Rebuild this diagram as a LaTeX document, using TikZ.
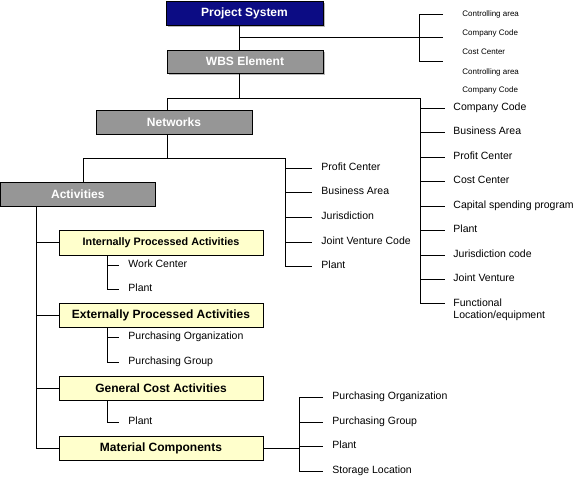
\documentclass[tikz,border=0pt]{standalone}
\usepackage{fontspec}
\setmainfont{Liberation Sans}
\usetikzlibrary{shadows}

\definecolor{psblue}{RGB}{12,12,132}
\definecolor{boxgray}{RGB}{150,150,150}
\definecolor{actyellow}{RGB}{255,255,204}

\begin{document}
\begin{tikzpicture}[x=1pt, y=-1pt, line width=0.9pt,
		topbox/.style={rectangle, draw=black, line width=0.6pt, minimum width=156pt, minimum height=24pt, inner sep=0pt, text=white, font=\fontsize{12}{14}\selectfont\bfseries},
		greybox/.style={topbox, fill=boxgray},
		actbox/.style={rectangle, draw=black, line width=0.6pt, fill=actyellow, minimum width=204pt, minimum height=24pt, inner sep=0pt, font=\fontsize{12}{14}\selectfont\bfseries},
		leaf/.style={anchor=west, inner sep=0pt, text height=7.6pt, text depth=2pt, font=\fontsize{10.5}{12}\selectfont},
		tinyleaf/.style={anchor=west, inner sep=0pt, text height=6pt, text depth=1.6pt, font=\fontsize{8}{9}\selectfont},
		shade/.style={drop shadow={shadow xshift=2pt, shadow yshift=-2pt, fill=black!45, opacity=0.6}}]

		\useasboundingbox[fill=white] (0,0) rectangle (580,484);

		% Kopf
		\node[topbox, fill=psblue, shade, minimum width=157pt] (ps) at (244.5,13) {Project System};
		\node[greybox, shade, minimum height=23pt] (wbs) at (245,61.5) {WBS Element};
		\node[greybox] (nw) at (174,122) {Networks};
		\node[greybox, minimum width=155pt] (act) at (77.8,194) {Activities};

		% Vorgaenge
		\node[actbox, minimum height=25pt, font=\fontsize{10.8}{13}\selectfont\bfseries] (ipa) at (161,242.5) {Internally Processed Activities};
		\node[actbox] (epa) at (161,315) {Externally Processed Activities};
		\node[actbox] (gca) at (161,388) {General Cost Activities};
		\node[actbox] (mat) at (161,448) {Material Components};

		% Project System rechts oben
		\node[tinyleaf] (tca1) at (462,14) {Controlling area};
		\node[tinyleaf] (tcc1) at (462,33) {Company Code};
		\node[tinyleaf] (tcost) at (462,52) {Cost Center};
		\node[tinyleaf] (tca2) at (462,72) {Controlling area};
		\node[tinyleaf] (tcc2) at (462,90) {Company Code};

		% WBS Element rechts
		\node[leaf] (rcc) at (453,108) {Company Code};
		\node[leaf] (rba) at (453,132) {Business Area};
		\node[leaf] (rpc) at (453,157) {Profit Center};
		\node[leaf] (rcost) at (453,181) {Cost Center};
		\node[leaf] (rcap) at (453,206) {Capital spending program};
		\node[leaf] (rpl) at (453,230) {Plant};
		\node[leaf] (rjc) at (453,255) {Jurisdiction code};
		\node[leaf] (rjv) at (453,279) {Joint Venture};
		\node[leaf, anchor=north west, align=left, text height=, text depth=] (rfl) at (453,298.5) {Functional\\Location/equipment};

		% Networks rechts
		\node[leaf] (mpc) at (321,168) {Profit Center};
		\node[leaf] (mba) at (321,192) {Business Area};
		\node[leaf] (mju) at (321,217) {Jurisdiction};
		\node[leaf] (mjv) at (321,242) {Joint Venture Code};
		\node[leaf] (mpl) at (321,266) {Plant};

		% unter den Vorgaengen
		\node[leaf] (ipawc) at (128,265) {Work Center};
		\node[leaf] (ipapl) at (128,289) {Plant};
		\node[leaf] (epapo) at (128,337) {Purchasing Organization};
		\node[leaf] (epapg) at (128,362) {Purchasing Group};
		\node[leaf] (gcapl) at (128,422) {Plant};
		\node[leaf] (matpo) at (332,397) {Purchasing Organization};
		\node[leaf] (matpg) at (332,422) {Purchasing Group};
		\node[leaf] (matpl) at (332,446) {Plant};
		\node[leaf] (matsl) at (332,471) {Storage Location};

		% Hilfspunkte
		\coordinate (psj) at (239,37);
		\coordinate (tbr) at (419,0);
		\coordinate (tbb) at (443,61);
		\coordinate (wj) at (239,98);
		\coordinate (nwj) at (167,98);
		\coordinate (rtop) at (420,98);
		\coordinate (rbot) at (420,303);
		\coordinate (nj) at (167,158);
		\coordinate (aj) at (83,158);
		\coordinate (mtop) at (285,158);
		\coordinate (arail) at (36,0);
		\coordinate (sub) at (107,0);
		\coordinate (mrail) at (299,0);

		% Project System -> WBS Element
		\draw (ps.south -| psj) -- (wbs.north -| psj);
		\draw (psj) -- (psj -| tbb);
		\draw ([xshift=-19pt]tca1.west) -| (tbr |- tbb) -- (tbb);

		% WBS Element -> Networks
		\draw (wbs.south -| wj) -- (wj);
		\draw (nw.north -| nwj) -- (nwj) -- (rtop) -- (rbot) -- ([xshift=-8pt]rbot -| rfl.west);
		\foreach \n in {rcc,rba,rpc,rcost,rcap,rpl,rjc,rjv}
			\draw (rtop |- \n.west) -- ([xshift=-8pt]\n.west);

		% Networks -> Activities
		\draw (nw.south -| nj) -- (nj);
		\draw (act.north -| aj) -- (aj) -- (mtop) |- ([xshift=-9pt]mpl.west);
		\foreach \n in {mpc,mba,mju,mjv}
			\draw (mtop |- \n.west) -- ([xshift=-9pt]\n.west);

		% Activities -> Vorgaenge
		\draw (act.south -| arail) |- (mat.west);
		\foreach \n in {ipa,epa,gca}
			\draw (arail |- \n.west) -- (\n.west);

		% Vorgaenge -> Merkmale
		\draw (sub |- ipa.south) |- ([xshift=-9pt]ipapl.west);
		\draw (sub |- ipawc.west) -- ([xshift=-9pt]ipawc.west);
		\draw (sub |- epa.south) |- ([xshift=-9pt]epapg.west);
		\draw (sub |- epapo.west) -- ([xshift=-9pt]epapo.west);
		\draw (sub |- gca.south) |- ([xshift=-9pt]gcapl.west);
		\draw (mat.east) -- (mat.east -| mrail);
		\draw ([xshift=-9pt]matpo.west) -| (mrail |- matsl.west) -- ([xshift=-9pt]matsl.west);
		\foreach \n in {matpg,matpl}
			\draw (mrail |- \n.west) -- ([xshift=-9pt]\n.west);
	\end{tikzpicture}
\end{document}
